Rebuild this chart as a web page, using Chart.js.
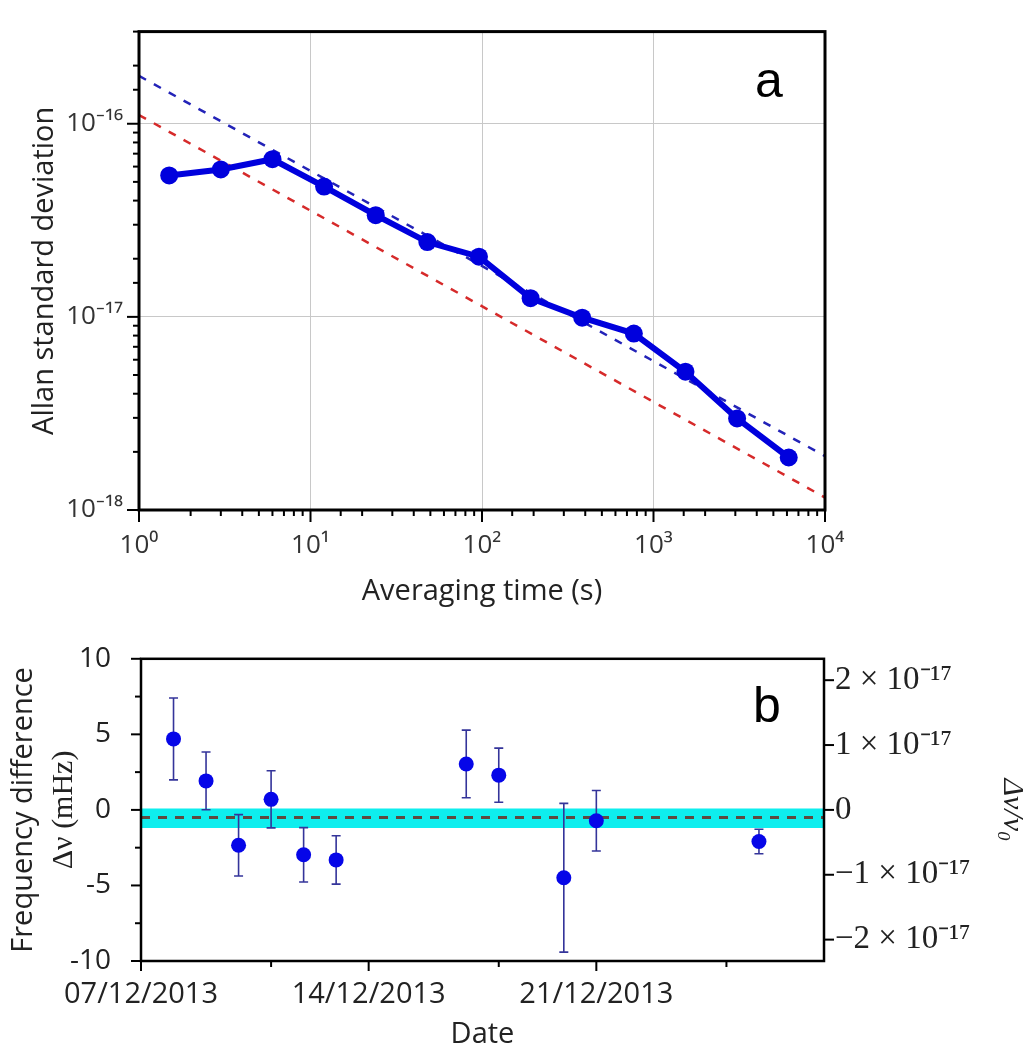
<!DOCTYPE html>
<html>
<head>
<meta charset="utf-8">
<title>Allan deviation and frequency difference</title>
<script src="https://cdn.jsdelivr.net/npm/chart.js@4.4.1/dist/chart.umd.min.js"></script>
<style>
  body { margin: 0; background: #fff; }
  .panel { position: absolute; left: 0; }
  #wrapA { top: 0; }
  #wrapB { top: 620px; }
</style>
</head>
<body>
<div class="panel" id="wrapA"><canvas id="chartA" width="1030" height="612"></canvas></div>
<div class="panel" id="wrapB"><canvas id="chartB" width="1030" height="433"></canvas></div>
<script>
// ---- panel a : Allan deviation ----
const tau = [1.5, 3, 6, 12, 24, 48, 96, 192, 384, 768, 1536, 3072, 6144];
const adev = [5.4e-17, 5.8e-17, 6.55e-17, 4.73e-17, 3.36e-17, 2.44e-17, 2.05e-17,
              1.25e-17, 9.9e-18, 8.2e-18, 5.2e-18, 2.98e-18, 1.87e-18];
const fitTau = [1, 10000];
const blueFit = [1.77e-16, 1.9e-18];
const redFit = [1.11e-16, 1.16e-18];
const tauDecades = [1, 10, 100, 1000, 10000];
const tauLabels = ['10⁰', '10¹', '10²', '10³', '10⁴'];
const adevDecades = [1e-18, 1e-17, 1e-16];
const adevLabels = ['10⁻¹⁸', '10⁻¹⁷', '10⁻¹⁶'];

// ---- panel b : frequency difference per day ----
const measDates = ['08/12/2013', '09/12/2013', '10/12/2013', '11/12/2013', '12/12/2013', '13/12/2013',
                   '17/12/2013', '18/12/2013', '20/12/2013', '21/12/2013', '26/12/2013'];
const freqDiff = [4.7, 1.92, -2.34, 0.7, -2.97, -3.31, 3.04, 2.3, -4.49, -0.72, -2.09];
const freqErr = [2.71, 1.91, 2.03, 1.89, 1.8, 1.6, 2.24, 1.79, 4.92, 2.0, 0.81];
const meanDiff = -0.5;
const bandLimits = [0.1, -1.2];
const dateRange = ['07/12/2013', '28/12/2013'];
const dateTicks = ['07/12/2013', '14/12/2013', '21/12/2013'];
const dateMinorTicks = ['11/12/2013', '18/12/2013', '25/12/2013'];
const leftTicks = [-10, -5, 0, 5, 10];
const leftTickLabels = ['-10', '-5', '0', '5', '10'];
const leftMinorTicks = [-7.5, -2.5, 2.5, 7.5];
const nu0 = 429.228e12; // Hz
const rightTicks = [-2e-17, -1e-17, 0, 1e-17, 2e-17];
const rightTickLabels = ['−2 × 10⁻¹⁷', '−1 × 10⁻¹⁷', '0', '1 × 10⁻¹⁷', '2 × 10⁻¹⁷'];

Chart.defaults.font.family = 'Open Sans';
Chart.defaults.color = '#333';

function dayOf(s) {
    const [d, m, y] = s.split('/').map(Number);
    const [d0, m0, y0] = dateRange[0].split('/').map(Number);
    return (Date.UTC(y, m - 1, d) - Date.UTC(y0, m0 - 1, d0)) / 86400000;
}

function decadeIndex(v, list) {
    return list.findIndex(d => Math.abs(Math.log10(v) - Math.log10(d)) < 1e-6);
}

// outward tick marks, long on major ticks and short on minor ones
const tickMarks = {
    id: 'tickMarks',
    afterDraw(chart, args, opts) {
        const { ctx, chartArea } = chart;
        ctx.save();
        ctx.strokeStyle = '#000';
        ctx.lineWidth = opts.width;
        for (const id of opts.scales) {
            const scale = chart.scales[id];
            for (const t of scale.ticks) {
                let major = t.major;
                if (scale.type === 'logarithmic') {
                    const e = Math.log10(t.value);
                    major = Math.abs(e - Math.round(e)) < 1e-6;
                }
                const len = major ? opts.major : opts.minor;
                const p = scale.getPixelForValue(t.value);
                ctx.beginPath();
                if (scale.position === 'bottom') {
                    ctx.moveTo(p, chartArea.bottom);
                    ctx.lineTo(p, chartArea.bottom + len);
                } else if (scale.position === 'left') {
                    ctx.moveTo(chartArea.left, p);
                    ctx.lineTo(chartArea.left - len, p);
                } else {
                    ctx.moveTo(chartArea.right, p);
                    ctx.lineTo(chartArea.right + len, p);
                }
                ctx.stroke();
            }
        }
        ctx.restore();
    }
};

const frame = {
    id: 'frame',
    afterDraw(chart, args, opts) {
        const { ctx, chartArea: a } = chart;
        ctx.save();
        ctx.strokeStyle = '#000';
        ctx.lineWidth = opts.width;
        ctx.strokeRect(a.left, a.top, a.right - a.left, a.bottom - a.top);
        ctx.restore();
    }
};

const panelLabel = {
    id: 'panelLabel',
    afterDraw(chart, args, opts) {
        const { ctx, chartArea: a } = chart;
        ctx.save();
        ctx.font = '50px "Liberation Sans"';
        ctx.fillStyle = '#000';
        ctx.textAlign = 'center';
        ctx.textBaseline = 'alphabetic';
        ctx.fillText(opts.text, a.right - opts.dx, a.top + opts.dy);
        ctx.restore();
    }
};

// vertical error bars with caps, drawn right after the mean line
const errorBars = {
    id: 'errorBars',
    afterDatasetDraw(chart, args, opts) {
        if (args.index !== opts.after) return;
        const { ctx, scales: { x, y } } = chart;
        const pts = chart.data.datasets[opts.dataset].data;
        ctx.save();
        ctx.strokeStyle = '#34349a';
        ctx.lineWidth = 1.6;
        pts.forEach((p, i) => {
            const px = x.getPixelForValue(p.x);
            const top = y.getPixelForValue(p.y + freqErr[i]);
            const bot = y.getPixelForValue(p.y - freqErr[i]);
            ctx.beginPath();
            ctx.moveTo(px, top); ctx.lineTo(px, bot);
            ctx.moveTo(px - 4.5, top); ctx.lineTo(px + 4.5, top);
            ctx.moveTo(px - 4.5, bot); ctx.lineTo(px + 4.5, bot);
            ctx.stroke();
        });
        ctx.restore();
    }
};

// ---- chart a ----
new Chart(document.getElementById('chartA'), {
    type: 'line',
    data: {
        datasets: [
            {
                data: tau.map((t, i) => ({ x: t, y: adev[i] })),
                borderColor: '#0000dd',
                backgroundColor: '#0000dd',
                borderWidth: 6,
                pointRadius: 9,
                pointBorderWidth: 0,
            },
            {
                data: fitTau.map((t, i) => ({ x: t, y: blueFit[i] })),
                borderColor: '#2323b8',
                borderWidth: 2.5,
                borderDash: [8, 9],
                pointRadius: 0,
            },
            {
                data: fitTau.map((t, i) => ({ x: t, y: redFit[i] })),
                borderColor: '#d62a2a',
                borderWidth: 2.5,
                borderDash: [8, 9],
                pointRadius: 0,
            },
        ],
    },
    options: {
        responsive: false,
        animation: false,
        events: [],
        layout: { padding: { left: 0, right: 205, top: 10, bottom: 0 } },
        plugins: {
            legend: { display: false },
            tooltip: { enabled: false },
            tickMarks: { scales: ['x', 'y'], major: 12, minor: 6, width: 2 },
            frame: { width: 3 },
            panelLabel: { text: 'a', dx: 56, dy: 65 },
        },
        scales: {
            x: {
                type: 'logarithmic',
                position: 'bottom',
                min: 1,
                max: 10000,
                afterFit: (s) => { s.height = 102; },
                border: { display: false },
                grid: {
                    drawTicks: false,
                    color: (c) => {
                        const i = c.tick ? decadeIndex(c.tick.value, tauDecades) : -1;
                        return i > 0 && i < tauDecades.length - 1 ? '#c8c8c8' : 'rgba(0,0,0,0)';
                    },
                },
                ticks: {
                    autoSkip: false,
                    maxRotation: 0,
                    padding: 20,
                    font: { size: 26 },
                    callback: (v) => {
                        const i = decadeIndex(v, tauDecades);
                        return i >= 0 ? tauLabels[i] : '';
                    },
                },
                title: {
                    display: true,
                    text: 'Averaging time (s)',
                    color: '#222',
                    font: { size: 29 },
                    padding: { top: 0, bottom: 3 },
                },
            },
            y: {
                type: 'logarithmic',
                min: 1e-18,
                max: 3e-16,
                afterFit: (s) => { s.width = 139; },
                border: { display: false },
                grid: {
                    drawTicks: false,
                    color: (c) => {
                        const i = c.tick ? decadeIndex(c.tick.value, adevDecades) : -1;
                        return i > 0 ? '#c8c8c8' : 'rgba(0,0,0,0)';
                    },
                },
                ticks: {
                    autoSkip: false,
                    padding: 16,
                    font: { size: 26 },
                    callback: (v) => {
                        const i = decadeIndex(v, adevDecades);
                        return i >= 0 ? adevLabels[i] : '';
                    },
                },
                title: {
                    display: true,
                    text: 'Allan standard deviation',
                    color: '#222',
                    font: { size: 29 },
                    padding: { top: 27, bottom: 0 },
                },
            },
        },
    },
    plugins: [tickMarks, frame, panelLabel],
});

// ---- chart b ----
const xMin = dayOf(dateRange[0]);
const xMax = dayOf(dateRange[1]);

new Chart(document.getElementById('chartB'), {
    type: 'line',
    data: {
        datasets: [
            {
                data: measDates.map((d, i) => ({ x: dayOf(d), y: freqDiff[i] })),
                showLine: false,
                pointRadius: 7.5,
                pointBorderWidth: 0,
                backgroundColor: '#0606e8',
            },
            {
                data: [{ x: xMin, y: meanDiff }, { x: xMax, y: meanDiff }],
                borderColor: '#5e4a40',
                borderWidth: 3,
                borderDash: [9, 8],
                pointRadius: 0,
            },
            {
                data: [{ x: xMin, y: bandLimits[0] }, { x: xMax, y: bandLimits[0] }],
                borderWidth: 0,
                pointRadius: 0,
                fill: false,
            },
            {
                data: [{ x: xMin, y: bandLimits[1] }, { x: xMax, y: bandLimits[1] }],
                borderWidth: 0,
                pointRadius: 0,
                fill: '-1',
                backgroundColor: '#0eeeee',
            },
        ],
    },
    options: {
        responsive: false,
        animation: false,
        events: [],
        layout: { padding: { left: 0, right: 0, top: 25, bottom: 0 } },
        plugins: {
            legend: { display: false },
            tooltip: { enabled: false },
            tickMarks: { scales: ['x', 'y', 'yR'], major: 10, minor: 6, width: 2 },
            frame: { width: 2.5 },
            panelLabel: { text: 'b', dx: 57, dy: 63 },
            errorBars: { after: 1, dataset: 0 },
        },
        scales: {
            x: {
                type: 'linear',
                min: xMin,
                max: xMax,
                afterFit: (s) => { s.height = 92; },
                afterBuildTicks: (s) => {
                    s.ticks = dateTicks.map(d => ({ value: dayOf(d), major: true }))
                        .concat(dateMinorTicks.map(d => ({ value: dayOf(d), major: false })))
                        .sort((a, b) => a.value - b.value);
                },
                border: { display: false },
                grid: { display: false },
                ticks: {
                    autoSkip: false,
                    maxRotation: 0,
                    padding: 8,
                    color: '#222',
                    font: { size: 29 },
                    callback: (v) => {
                        const i = dateTicks.findIndex(d => dayOf(d) === v);
                        return i >= 0 ? dateTicks[i] : '';
                    },
                },
                title: {
                    display: true,
                    text: 'Date',
                    color: '#222',
                    font: { size: 29 },
                    padding: { top: 0, bottom: 1 },
                },
            },
            y: {
                type: 'linear',
                position: 'left',
                weight: 0,
                min: -10,
                max: 10,
                afterFit: (s) => { s.width = 101; },
                afterBuildTicks: (s) => {
                    s.ticks = leftTicks.map(v => ({ value: v, major: true }))
                        .concat(leftMinorTicks.map(v => ({ value: v, major: false })))
                        .sort((a, b) => a.value - b.value);
                },
                border: { display: false },
                grid: { display: false },
                ticks: {
                    autoSkip: false,
                    padding: 22,
                    color: '#222',
                    font: { size: 28 },
                    callback: (v) => {
                        const i = leftTicks.indexOf(v);
                        return i >= 0 ? leftTickLabels[i] : '';
                    },
                },
                title: {
                    display: true,
                    text: 'Δν (mHz)',
                    color: '#222',
                    font: { family: 'Liberation Serif', size: 30 },
                    padding: { top: 6, bottom: 0 },
                },
            },
            yT: {
                type: 'linear',
                position: 'left',
                weight: 1,
                min: -10,
                max: 10,
                afterFit: (s) => { s.width = 40; },
                border: { display: false },
                grid: { display: false },
                ticks: { display: false },
                title: {
                    display: true,
                    text: 'Frequency difference',
                    color: '#222',
                    font: { size: 29 },
                    padding: { top: 6, bottom: 0 },
                },
            },
            yR: {
                type: 'linear',
                position: 'right',
                min: -10e-3 / nu0,
                max: 10e-3 / nu0,
                afterFit: (s) => { s.width = 206; },
                afterBuildTicks: (s) => {
                    s.ticks = rightTicks.map(v => ({ value: v, major: true }));
                },
                border: { display: false },
                grid: { display: false },
                ticks: {
                    autoSkip: false,
                    padding: 3,
                    color: '#222',
                    font: { family: 'Liberation Serif', size: 33 },
                    callback: (v, i) => rightTickLabels[i],
                },
                title: {
                    display: true,
                    text: 'Δν/ν₀',
                    color: '#222',
                    font: { family: 'Liberation Serif', size: 30, style: 'italic' },
                    padding: { top: 0, bottom: 0 },
                },
            },
        },
    },
    plugins: [tickMarks, frame, panelLabel, errorBars],
});
</script>
</body>
</html>
